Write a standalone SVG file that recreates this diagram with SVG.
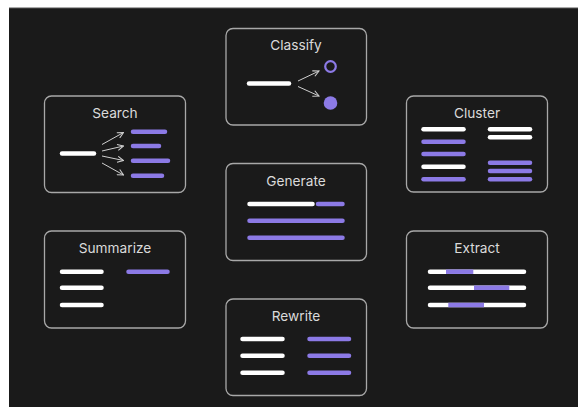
<svg xmlns="http://www.w3.org/2000/svg" width="583" height="407" viewBox="0 0 583 407">
<defs>
<marker id="ah" viewBox="0 0 10 10" refX="9" refY="5" markerWidth="7.5" markerHeight="7.5" markerUnits="userSpaceOnUse" orient="auto">
<path d="M1,1 L9,5 L1,9" fill="none" stroke="#cfcfcf" stroke-width="1.4"/>
</marker>
</defs>
<style>
.box{fill:#1a1a1a;stroke:#a8a8a8;stroke-width:1.3}
.t{font-family:Inter,"Liberation Sans",sans-serif;font-size:13.7px;fill:#dadada;text-anchor:middle}
.w{stroke:#ffffff;stroke-width:4.5;stroke-linecap:round}
.p{stroke:#8c7ae6;stroke-width:4.5;stroke-linecap:round}
.a{stroke:#cfcfcf;stroke-width:1;fill:none}
</style>
<rect x="0" y="0" width="583" height="407" fill="#ffffff"/>
<rect x="9" y="8" width="569" height="399" fill="#1a1a1a"/>
<line x1="9" y1="8" x2="578" y2="8" stroke="#555" stroke-width="1"/>

<g id="classify">
<rect class="box" x="226" y="28.5" width="140.5" height="96.5" rx="7"/>
<text class="t" x="296" y="50">Classify</text>
<line class="w" x1="249" y1="83.5" x2="289" y2="83.5"/>
<circle cx="330.5" cy="66.5" r="5.3" fill="none" stroke="#8c7ae6" stroke-width="2.2"/>
<circle cx="330.5" cy="103" r="6.8" fill="#8c7ae6"/>
</g>

<g id="search">
<rect class="box" x="44.5" y="96" width="141" height="96.5" rx="7"/>
<text class="t" x="115" y="117.5">Search</text>
<line class="w" x1="62" y1="153.5" x2="94" y2="153.5"/>
<line class="p" x1="133" y1="131.7" x2="165" y2="131.7"/>
<line class="p" x1="133" y1="146" x2="159" y2="146"/>
<line class="p" x1="133" y1="160.7" x2="168" y2="160.7"/>
<line class="p" x1="133" y1="175.7" x2="162" y2="175.7"/>
</g>

<g id="cluster">
<rect class="box" x="406.5" y="96" width="141" height="96" rx="7"/>
<text class="t" x="477" y="117.5">Cluster</text>
<line class="w" x1="423.5" y1="129.3" x2="463.5" y2="129.3"/>
<line class="p" x1="423.5" y1="141.7" x2="463.5" y2="141.7"/>
<line class="p" x1="423.5" y1="154" x2="463.5" y2="154"/>
<line class="w" x1="423.5" y1="166.7" x2="463.5" y2="166.7"/>
<line class="p" x1="423.5" y1="179.3" x2="463.5" y2="179.3"/>
<line class="w" x1="490" y1="129.3" x2="530" y2="129.3"/>
<line class="w" x1="490" y1="137.3" x2="530" y2="137.3"/>
<line class="p" x1="490" y1="162.7" x2="530" y2="162.7"/>
<line class="p" x1="490" y1="171" x2="530" y2="171"/>
<line class="p" x1="490" y1="179.3" x2="530" y2="179.3"/>
</g>

<g id="generate">
<rect class="box" x="226" y="163.5" width="140.5" height="97" rx="7"/>
<text class="t" x="296" y="185.5">Generate</text>
<line class="w" x1="249.5" y1="204" x2="312.5" y2="204"/>
<line class="p" x1="318" y1="204" x2="342.5" y2="204"/>
<line class="p" x1="249.5" y1="220.7" x2="342.5" y2="220.7"/>
<line class="p" x1="249.5" y1="237.7" x2="342.5" y2="237.7"/>
</g>

<g id="summarize">
<rect class="box" x="44.5" y="231" width="141" height="97" rx="7"/>
<text class="t" x="115" y="252.5">Summarize</text>
<line class="w" x1="62" y1="271.7" x2="101.5" y2="271.7"/>
<line class="w" x1="62" y1="287.7" x2="101.5" y2="287.7"/>
<line class="w" x1="62" y1="305" x2="101.5" y2="305"/>
<line class="p" x1="128.5" y1="271.7" x2="167.5" y2="271.7"/>
</g>

<g id="extract">
<rect class="box" x="406.5" y="231" width="141" height="97" rx="7"/>
<text class="t" x="477" y="252.5">Extract</text>
<line class="w" x1="430" y1="271.7" x2="524" y2="271.7"/>
<line class="w" x1="430" y1="287.7" x2="524" y2="287.7"/>
<line class="w" x1="430" y1="305" x2="524" y2="305"/>
<line x1="446" y1="271.7" x2="473.3" y2="271.7" stroke="#8c7ae6" stroke-width="4.5"/>
<line x1="474" y1="287.7" x2="509.3" y2="287.7" stroke="#8c7ae6" stroke-width="4.5"/>
<line x1="448.3" y1="305" x2="484" y2="305" stroke="#8c7ae6" stroke-width="4.5"/>
</g>

<g id="rewrite">
<rect class="box" x="226" y="299" width="140.5" height="96.5" rx="7"/>
<text class="t" x="296" y="320.5">Rewrite</text>
<line class="w" x1="242.5" y1="339" x2="282.5" y2="339"/>
<line class="w" x1="242.5" y1="355.7" x2="282.5" y2="355.7"/>
<line class="w" x1="242.5" y1="372.7" x2="282.5" y2="372.7"/>
<line class="p" x1="309.5" y1="339" x2="349" y2="339"/>
<line class="p" x1="309.5" y1="355.7" x2="349" y2="355.7"/>
<line class="p" x1="309.5" y1="372.7" x2="349" y2="372.7"/>
</g>

<g id="connectors">
<line class="a" x1="298" y1="81" x2="319" y2="71" marker-end="url(#ah)"/>
<line class="a" x1="298" y1="86.5" x2="319" y2="96" marker-end="url(#ah)"/>
<line class="a" x1="102" y1="144.5" x2="123.5" y2="132.5" marker-end="url(#ah)"/>
<line class="a" x1="102" y1="151" x2="123.5" y2="146" marker-end="url(#ah)"/>
<line class="a" x1="102" y1="156" x2="123.5" y2="160.5" marker-end="url(#ah)"/>
<line class="a" x1="102" y1="163" x2="123.5" y2="175" marker-end="url(#ah)"/>
</g>
</svg>
